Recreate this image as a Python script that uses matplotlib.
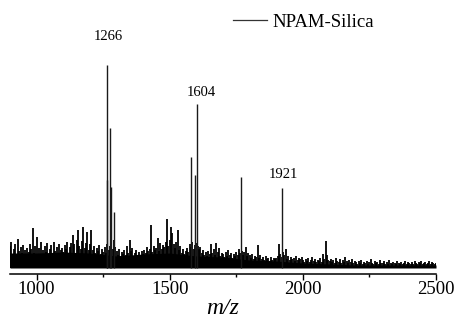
import matplotlib
matplotlib.use("Agg")
import matplotlib.pyplot as plt
import numpy as np

# background spectrum, one value every 5 m/z from 900 to 2500
noise_start = 900
noise_step = 5
noise_rows = [
    [22, 26, 14, 19, 24, 12, 29, 17, 21, 15, 23, 18, 13, 20, 16, 24, 19, 40, 15, 22],   # 900
    [31, 14, 20, 26, 13, 18, 22, 16, 25, 12, 19, 23, 15, 26, 17, 21, 14, 24, 18, 20],   # 1000
    [16, 23, 19, 26, 14, 21, 25, 33, 24, 15, 28, 38, 22, 19, 27, 41, 20, 25, 36, 18],   # 1100
    [24, 38, 18, 22, 15, 20, 17, 23, 14, 19, 16, 21, 15, 24, 18, 22, 26, 19, 28, 21],   # 1200
    [17, 13, 19, 12, 16, 14, 18, 13, 22, 15, 28, 17, 20, 12, 15, 18, 13, 16, 11, 17],   # 1300
    [14, 18, 15, 21, 17, 19, 43, 16, 22, 18, 20, 30, 17, 25, 19, 23, 21, 26, 49, 22],   # 1400
    [28, 41, 35, 24, 20, 26, 38, 18, 22, 15, 19, 14, 17, 20, 16, 24, 21, 26, 19, 23],   # 1500
    [25, 22, 19, 21, 15, 18, 13, 16, 12, 17, 14, 24, 15, 19, 13, 25, 16, 20, 12, 15],   # 1600
    [14, 11, 16, 12, 18, 13, 15, 10, 14, 12, 16, 13, 19, 15, 17, 13, 16, 21, 12, 15],   # 1700
    [13, 10, 14, 9, 12, 11, 23, 10, 13, 9, 11, 8, 12, 9, 10, 7, 11, 8, 10, 9],         # 1800
    [10, 12, 24, 14, 11, 16, 13, 19, 9, 12, 8, 11, 9, 10, 7, 12, 8, 10, 9, 11],         # 1900
    [8, 6, 9, 7, 10, 6, 8, 11, 7, 9, 6, 8, 7, 10, 6, 14, 9, 27, 13, 8],                 # 2000
    [7, 9, 6, 8, 5, 10, 7, 6, 9, 5, 8, 6, 11, 7, 5, 8, 6, 9, 5, 7],                     # 2100
    [6, 4, 7, 5, 8, 4, 6, 5, 7, 4, 6, 9, 5, 4, 7, 5, 6, 4, 8, 5],                       # 2200
    [5, 7, 4, 6, 4, 8, 5, 4, 6, 5, 4, 7, 5, 4, 6, 4, 5, 7, 4, 6],                       # 2300
    [5, 4, 6, 4, 7, 5, 4, 6, 5, 7, 4, 5, 6, 4, 5, 7, 4, 6, 5, 4, 5],                    # 2400-2500
]
noise_int = [v for row in noise_rows for v in row]
noise_mz = [noise_start + noise_step * i for i in range(len(noise_int))]

# solid floor under the noise, read every 100 m/z
floor_mz = [900, 1000, 1100, 1200, 1300, 1400, 1500, 1600, 1700, 1800, 1900, 2000, 2100, 2200, 2300, 2400, 2500]
floor_int = [15, 15, 16, 15, 12, 14, 15, 12, 11, 8, 7, 5, 4, 3, 3, 3, 3]

# main peaks
peak_mz = [1263, 1266, 1276, 1281, 1290, 1580, 1595, 1604, 1769, 1921]
peak_int = [88, 203, 140, 81, 56, 111, 93, 164, 91, 80]

# labelled peaks: label, x of text, y of text
label_txt = ["1266", "1604", "1921"]
label_x = [1270, 1620, 1925]
label_y = [231, 175, 94]

plt.rcParams['font.family'] = ['Liberation Serif', 'DejaVu Serif']

fig = plt.figure(figsize=(4.56, 3.24), dpi=100)
ax = fig.add_axes([10 / 456, 50 / 324, 426 / 456, 264 / 324])

ax.fill_between(floor_mz, 0, floor_int, color='black', lw=0)
ax.vlines(noise_mz, 0, noise_int, color='black', lw=1.3)
ax.vlines(peak_mz, 0, peak_int, color='#1a1a1a', lw=1.0)
# empty line only for the legend entry
ax.plot([], [], color='#333333', lw=0.9, label='NPAM-Silica')

for t, x, y in zip(label_txt, label_x, label_y):
    ax.text(x, y, t, ha='center', va='center', fontsize=10.5)

ax.set_xlim(900, 2500)
ax.set_ylim(-6, 258)

for s in ['left', 'right', 'top']:
    ax.spines[s].set_visible(False)
ax.spines['bottom'].set_linewidth(1.1)
ax.set_yticks([])
ax.set_xticks([1000, 1500, 2000, 2500])
ax.set_xticks([1250, 1750, 2250], minor=True)
ax.tick_params(axis='x', which='major', length=4, width=1, labelsize=13.5, pad=1)
ax.tick_params(axis='x', which='minor', length=2.5, width=1)
ax.set_xlabel('m/z', fontstyle='italic', fontsize=17, labelpad=0)

leg = ax.legend(loc='center left', bbox_to_anchor=(233 / 456, 1 - 22 / 324),
                bbox_transform=fig.transFigure, frameon=False, fontsize=13.5,
                handlelength=1.8, handletextpad=0.3, borderpad=0, borderaxespad=0)

plt.savefig('out.png', dpi=100)
